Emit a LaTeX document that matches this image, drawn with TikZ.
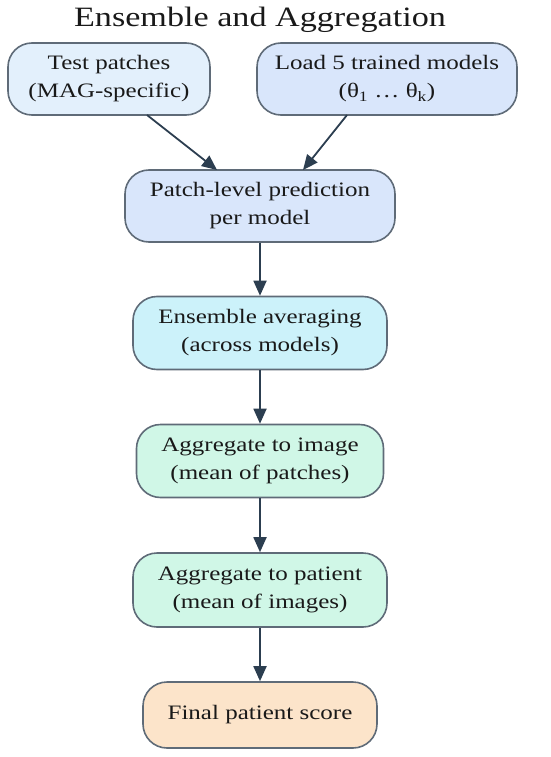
\documentclass[tikz,border=0pt]{standalone}
\usepackage{fontspec}
\setmainfont{Liberation Serif}[FakeStretch=1.22]
\usetikzlibrary{arrows.meta}
\definecolor{bordc}{HTML}{5F6B78}
\definecolor{arrc}{HTML}{2C3E50}
\definecolor{fillA}{HTML}{E3F0FC}
\definecolor{fillB}{HTML}{D9E6FB}
\definecolor{fillC}{HTML}{CCF2FA}
\definecolor{fillD}{HTML}{D0F7E7}
\definecolor{fillE}{HTML}{FCE4CA}
\tikzset{
  stepbox/.style={draw=bordc, line width=1.6pt, rounded corners=24pt, align=center,
    font=\fontsize{20.5}{28}\selectfont, text=black!90, inner sep=0pt},
  conn/.style={draw=arrc, line width=1.8pt, -{Triangle[length=15pt,width=13pt]}},
}
\begin{document}
\begin{tikzpicture}[x=1pt,y=-1pt]
\useasboundingbox (0,0) rectangle (550,757);
\node[font=\fontsize{28}{30}\selectfont, text=black!90] (title) at (260,20) {Ensemble and Aggregation};
\node[stepbox, fill=fillA, minimum width=202pt, minimum height=72pt] (tp) at (109,79) {Test patches\\(MAG-specific)};
\node[stepbox, fill=fillB, minimum width=260pt, minimum height=72pt] (lm) at (387,79) {Load 5 trained models\\(θ\textsubscript{1} … θ\textsubscript{k})};
\node[stepbox, fill=fillB, minimum width=270pt, minimum height=72pt] (pl) at (260,206) {Patch-level prediction\\per model};
\node[stepbox, fill=fillC, minimum width=254pt, minimum height=73pt] (ea) at (260,333) {Ensemble averaging\\(across models)};
\node[stepbox, fill=fillD, minimum width=247pt, minimum height=73pt] (ai) at (260,461) {Aggregate to image\\(mean of patches)};
\node[stepbox, fill=fillD, minimum width=254pt, minimum height=74pt] (ap) at (260,590) {Aggregate to patient\\(mean of images)};
\node[stepbox, fill=fillE, minimum width=234pt, minimum height=66pt] (fs) at (260,715) {Final patient score};
\coordinate (tpout) at (147,115);
\coordinate (lmout) at (347,115);
\coordinate (plinA) at (217,170);
\coordinate (plinB) at (303,170);
\draw[conn] (tpout) -- (plinA);
\draw[conn] (lmout) -- (plinB);
\draw[conn] (pl) -- (ea);
\draw[conn] (ea) -- (ai);
\draw[conn] (ai) -- (ap);
\draw[conn] (ap) -- (fs);
\end{tikzpicture}
\end{document}
